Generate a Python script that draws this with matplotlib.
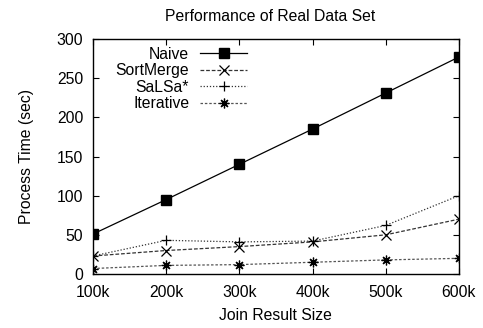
import matplotlib
matplotlib.use("Agg")
import matplotlib.pyplot as plt

plt.rcParams['font.family'] = ['Liberation Sans', 'DejaVu Sans']

x_labels = ["100k", "200k", "300k", "400k", "500k", "600k"]
naive = [51, 95, 140, 185, 231, 277]
sortmerge = [23, 30, 35, 41, 50, 70]
salsa = [23, 43, 41, 42, 62, 100]
iterative = [7, 11, 12, 15, 18, 20]

FS = 11.3
fig = plt.figure(figsize=(4.83, 3.28), dpi=100)
ax = fig.add_axes([0.1925, 0.1646, 0.7575, 0.7165])
xs = list(range(len(x_labels)))

ax.plot(xs, naive, color='black', lw=0.9, marker='s', ms=6.5, label='Naive')
ax.plot(xs, sortmerge, color='#333333', lw=0.9, ls=(0, (3, 1.5)), marker='x', ms=6.5, mew=0.9, mec='black', label='SortMerge')
ax.plot(xs, salsa, color='#333333', lw=0.9, ls=(0, (1, 1.5)), marker='+', ms=7.5, mew=0.9, mec='black', label='SaLSa*')
ax.plot(xs, iterative, color='#555555', lw=0.9, ls=(0, (2, 1.5)), marker=(8, 2, 0), ms=7, mew=0.9, mec='black', label='Iterative')

ax.set_xlim(0, 5)
ax.set_ylim(0, 300)
ax.set_xticks(xs)
ax.set_xticklabels(x_labels)
ax.set_yticks(range(0, 301, 50))
ax.tick_params(direction='in', top=True, right=True, labelsize=FS, length=4)
ax.tick_params(axis='y', pad=7)
ax.tick_params(axis='x', pad=8)
for s in ax.spines.values():
    s.set_linewidth(1.0)

ax.set_xlabel('Join Result Size', fontsize=FS, labelpad=6)
ax.set_ylabel('Process Time (sec)', fontsize=FS, labelpad=16)
ax.set_title('Performance of Real Data Set', fontsize=FS, pad=13, x=0.485)

leg = ax.legend(loc='upper left', bbox_to_anchor=(0.049, 0.987), frameon=False, markerfirst=False,
                fontsize=FS, handlelength=3.0, handletextpad=0.7, labelspacing=0.1,
                borderaxespad=0.0, borderpad=0.3)
for t in leg.get_texts():
    t.set_ha('right')
leg._legend_box.align = 'right'

fig.savefig('out.png', dpi=100)
